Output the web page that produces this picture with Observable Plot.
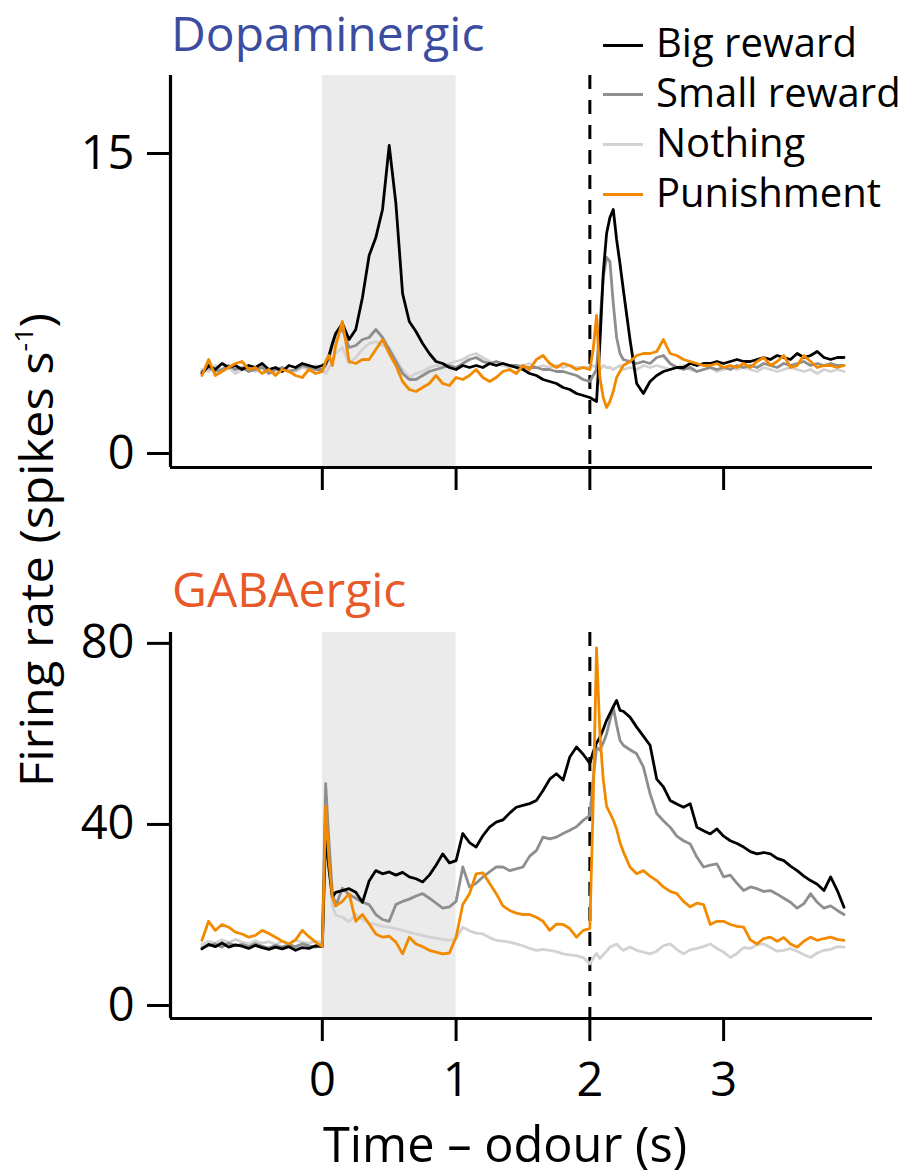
<!DOCTYPE html>
<html><head><meta charset="utf-8">
<script src="https://cdn.jsdelivr.net/npm/d3@7"></script>
<script src="https://cdn.jsdelivr.net/npm/@observablehq/plot@0.6"></script>
<style>
html,body{margin:0;padding:0;background:#fff;}
#chart{position:relative;width:909px;height:1175px;font-family:"Open Sans",sans-serif;overflow:hidden;background:#fff;}
#chart svg{position:absolute;left:0;}
.abs{position:absolute;white-space:nowrap;line-height:1;left:0;top:0;}
</style></head><body><div id="chart"></div>
<script>
// ---- time (s) relative to odour onset ----
const time = [
 -0.9,-0.85,-0.8,-0.75,-0.7,-0.65,-0.6,-0.55,-0.5,-0.45,-0.4,-0.35,-0.3,-0.25,-0.2,-0.15,-0.1,-0.05,
 0,0.025,0.05,0.075,0.1,
 0.15,0.2,0.25,0.3,0.35,0.4,0.45,0.5,0.55,0.6,0.65,0.7,0.75,0.8,0.85,0.9,0.95,1.0,1.05,1.1,1.15,1.2,1.25,1.3,1.35,1.4,1.45,1.5,1.55,1.6,1.65,1.7,1.75,1.8,1.85,1.9,1.95,
 2.0,2.025,2.05,2.075,2.1,2.125,2.15,2.175,2.2,2.225,2.25,
 2.3,2.35,2.4,2.45,2.5,2.55,2.6,2.65,2.7,2.75,2.8,2.85,2.9,2.95,3.0,3.05,3.1,3.15,3.2,3.25,3.3,3.35,3.4,3.45,3.5,3.55,3.6,3.65,3.7,3.75,3.8,3.85,3.9
];

// ---- Dopaminergic firing rate (spikes/s) ----
const daBig = [
 4.0,4.4,4.2,4.5,4.3,4.4,4.2,4.4,4.3,4.5,4.2,4.3,4.1,4.4,4.3,4.5,4.4,4.3,
 4.4,4.5,4.9,5.5,6.0,
 6.5,5.7,6.2,7.8,9.9,10.8,12.2,15.4,12.5,8.0,6.6,6.1,5.5,5.0,4.6,4.5,4.3,4.2,4.4,4.3,4.4,4.3,4.5,4.4,4.5,4.4,4.3,4.2,4.0,3.9,3.7,3.6,3.5,3.3,3.2,3.0,2.9,
 2.8,2.7,2.6,5.5,9.0,11.0,11.8,12.2,10.7,9.5,8.2,
 5.7,3.5,3.0,3.6,3.9,4.1,4.2,4.3,4.3,4.5,4.4,4.5,4.5,4.6,4.5,4.6,4.7,4.6,4.6,4.7,4.8,4.7,4.9,4.8,4.7,5.0,4.8,4.9,5.1,4.8,4.7,4.8,4.8
];
const daSmall = [
 4.1,4.3,4.1,4.2,4.4,4.2,4.3,4.1,4.2,4.3,4.0,4.2,4.3,4.1,4.2,4.4,4.3,4.2,
 4.2,4.4,4.8,5.4,6.0,
 6.2,5.3,5.4,5.7,5.8,6.2,5.8,5.2,4.6,4.0,3.7,3.7,3.9,4.1,4.2,4.3,4.4,4.3,4.5,4.7,4.8,4.6,4.5,4.6,4.5,4.4,4.4,4.3,4.3,4.3,4.2,4.2,4.1,4.1,4.0,3.9,3.7,
 3.6,3.9,4.2,6.5,8.8,9.8,9.6,7.5,5.8,5.0,4.7,
 4.6,4.5,4.6,4.5,4.8,4.9,4.5,4.3,4.2,4.3,4.1,4.2,4.3,4.2,4.3,4.2,4.4,4.3,4.4,4.3,4.5,4.4,4.3,4.5,4.4,4.5,4.6,4.4,4.5,4.4,4.5,4.4,4.4
];
const daNothing = [
 4.2,4.1,4.4,4.2,4.3,4.0,4.2,4.4,4.1,4.3,4.2,4.0,4.3,4.2,4.1,4.3,4.2,4.4,
 4.2,4.0,4.3,4.6,5.0,
 5.3,4.5,4.8,5.2,5.5,5.6,5.4,5.3,4.7,4.2,3.8,4.0,4.1,4.3,4.4,4.4,4.5,4.6,4.7,4.9,5.0,4.8,4.6,4.5,4.4,4.3,4.4,4.4,4.5,4.3,4.4,4.3,4.4,4.3,4.4,4.3,4.3,
 4.3,4.4,4.3,4.2,4.4,4.3,4.3,4.2,4.3,4.4,4.2,
 4.3,4.2,4.4,4.3,4.4,4.3,4.2,4.3,4.4,4.2,4.1,4.2,4.3,4.1,4.2,4.3,4.2,4.3,4.2,4.1,4.3,4.2,4.1,4.2,4.3,4.2,4.1,4.2,4.0,4.2,4.1,4.2,4.1
];
const daPunish = [
 3.9,4.7,3.9,4.1,4.3,4.5,4.6,4.2,4.3,4.0,4.2,3.9,4.2,4.1,3.9,3.8,4.2,4.0,
 4.1,4.6,4.9,4.4,5.4,
 6.6,4.6,4.5,4.7,4.7,5.2,5.7,5.0,4.4,3.6,3.2,3.1,3.3,3.5,3.9,3.5,3.4,3.8,3.7,3.9,4.2,3.8,3.6,3.8,4.1,4.2,4.0,4.4,4.2,4.7,4.9,4.5,4.3,4.5,4.4,4.2,4.3,
 4.2,5.2,6.9,3.8,2.8,2.3,2.6,3.1,3.8,4.1,4.4,
 4.6,4.9,5.0,5.0,5.1,5.7,5.0,4.9,4.7,4.6,4.5,4.4,4.4,4.5,4.3,4.4,4.3,4.5,4.3,4.6,4.8,4.4,4.6,4.9,4.3,4.4,4.9,4.6,4.3,4.4,4.4,4.3,4.4
];

// ---- GABAergic firing rate (spikes/s) ----
const gaBig = [
 12.5,13.5,13.0,13.8,12.9,13.4,13.1,12.6,13.3,12.8,12.4,12.9,12.5,13.0,12.2,12.8,12.6,13.2,
 13.0,38,30,24,25,
 25.4,25.8,25.0,22.8,27.5,29.8,29.1,29.5,28.8,29.4,28.4,28.0,27.3,28.8,31.0,33.5,31.5,32.0,38.0,36.0,35.0,37.5,39.4,40.5,41.0,42.5,43.8,44.2,44.6,45.3,47.5,50.0,51.2,49.8,54.9,57.1,55.5,
 53.5,56,58,59.3,61,63,64.5,66,67.4,65.2,65.0,
 63.7,61.5,59.5,57.5,50.0,48.3,45.3,44.5,43.8,44.6,39.4,38.6,37.9,39.0,37.4,36.4,35.8,35.0,34.0,33.5,33.8,33.5,32.5,32.0,30.8,29.8,28.6,27.6,26.8,25.4,28.4,25.4,21.7
];
const gaSmall = [
 12.8,13.2,13.6,12.9,13.8,13.2,13.5,13.0,13.7,13.1,12.7,13.3,12.9,13.4,13.0,13.6,13.2,12.9,
 13.5,49,36,25,22,
 25.9,24.5,23.7,22.8,22.3,20.1,19.0,18.6,22.3,23.0,23.5,24.2,24.7,23.7,22.6,21.5,21.8,23.0,30.6,26.2,27.0,28.4,29.5,30.6,30.6,29.8,30.2,30.6,33.0,34.2,37.2,36.8,37.2,38.0,38.7,39.5,40.9,
 42,50,57,56.4,58,60,63,65.9,62,58.6,57.5,
 56.5,55.6,52.7,46.8,42.4,40.8,39.4,37.4,36.4,35.7,32.8,30.6,31.0,31.3,28.4,28.8,27.0,25.4,26.2,25.8,25.2,25.4,24.6,23.7,22.8,21.5,22.5,24.7,22.8,21.5,22.0,21.0,20.1
];
const gaNothing = [
 13.5,14.2,13.8,14.5,13.9,14.6,14.0,13.6,14.3,13.8,14.1,13.5,14.2,13.7,14.4,14.0,13.8,14.2,
 14.0,46,31,22,20,
 19.5,18.5,20.1,19.0,18.2,17.9,17.5,17.3,17.0,16.6,16.2,15.8,15.5,15.1,14.9,14.6,14.4,14.8,17.3,16.5,16.0,15.8,15.0,14.4,14.2,14.0,13.6,13.2,12.6,12.2,12.4,12.2,11.9,11.4,11.2,11.0,10.6,
 9.2,10.5,11.5,10.4,11.2,12.0,12.9,13.2,13.6,12.8,12.2,
 12.9,12.2,11.8,11.4,12.0,13.2,13.6,12.4,11.4,12.3,12.6,13.0,13.6,12.6,11.8,10.6,11.5,12.8,12.6,13.4,13.6,12.8,12.0,12.2,12.6,12.0,11.2,10.6,11.6,12.2,12.4,13.0,12.9
];
const gaPunish = [
 14.4,18.6,16.6,17.9,17.3,16.2,15.8,15.1,15.5,16.6,15.9,15.1,14.2,13.6,14.5,16.6,15.2,14.0,
 13.0,44,32,24,22,
 23.0,24.7,18.6,20.1,18.0,15.8,15.1,15.3,14.0,11.4,15.1,13.6,13.0,12.2,11.8,11.4,11.6,15.1,22.3,24.7,29.1,29.3,27.0,24.7,22.0,21.0,20.4,20.1,20.1,19.5,18.6,16.6,18.0,17.9,17.0,15.1,16.6,
 17,45,79,60,50,44,42.5,41,39,36,34,
 30.6,29.1,29.8,28.6,27.6,26.2,25.2,24.7,23.0,21.8,22.6,22.3,17.9,18.6,18.6,17.9,17.5,17.3,14.5,13.6,14.8,15.1,14.2,15.0,13.6,12.9,14.2,15.1,14.4,14.8,15.1,14.6,14.4
];

// ---- categories, colours, ticks ----
const seriesNames = ["Big reward", "Small reward", "Nothing", "Punishment"];
const seriesColors = ["#000000", "#8e8e8e", "#d2d2d2", "#f28a00"];
const drawOrder = ["Nothing", "Small reward", "Big reward", "Punishment"];
const odourWindow = [{start: 0, end: 1}];
const outcomeTime = [2];
const xTicks = [0, 1, 2, 3];
const daTicks = [0, 15];
const gaTicks = [0, 40, 80];
const xDomain = [-1.135, 4.113];
const daDomain = [-0.7, 18.9];
const gaDomain = [-2.87, 82.4];

const colorOf = name => seriesColors[seriesNames.indexOf(name)];

function table(arrs) {
  const out = {};
  for (const name of seriesNames) {
    const a = arrs[name];
    out[name] = time.map((t, i) => ({t, v: a[i]})).filter(d => d.v != null);
  }
  return out;
}
const daData = table({"Big reward": daBig, "Small reward": daSmall, "Nothing": daNothing, "Punishment": daPunish});
const gaData = table({"Big reward": gaBig, "Small reward": gaSmall, "Nothing": gaNothing, "Punishment": gaPunish});

const FONT = '"Open Sans", sans-serif';

function panel(data, yDomain, yTicks, opts) {
  return Plot.plot({
    width: 909,
    height: opts.height,
    marginLeft: 170,
    marginRight: 37,
    marginTop: opts.marginTop,
    marginBottom: opts.marginBottom,
    x: {domain: xDomain},
    y: {domain: yDomain},
    style: {fontFamily: FONT, fontSize: "47px", color: "#000", background: "none", overflow: "visible"},
    marks: [
      Plot.rect(odourWindow, {x1: "start", x2: "end", fill: "#ebebeb"}),
      Plot.ruleX(outcomeTime, {stroke: "#000", strokeWidth: 3, strokeDasharray: "14,11"}),
      ...drawOrder.map(name => Plot.line(data[name], {x: "t", y: "v", stroke: colorOf(name), strokeWidth: 2.8, strokeLinejoin: "round"})),
      Plot.ruleY([yDomain[0]], {stroke: "#000", strokeWidth: 3.2}),
      Plot.ruleX([xDomain[0]], {stroke: "#000", strokeWidth: 3.2}),
      Plot.axisY({ticks: yTicks, tickSize: 23, tickPadding: 13, strokeWidth: 3, label: null, tickFormat: d => String(d)}),
      opts.xLabels
        ? Plot.axisX({ticks: xTicks, tickSize: 23, tickPadding: 21, strokeWidth: 3, label: null, tickFormat: d => String(d)})
        : Plot.axisX({ticks: xTicks, tickSize: 23, tickFormat: () => "", strokeWidth: 3, label: null})
    ]
  });
}

const chart = document.getElementById("chart");
const top1 = panel(daData, daDomain, daTicks, {height: 500, marginTop: 75, marginBottom: 33, xLabels: false});
top1.style.top = "0px";
chart.appendChild(top1);
const bot = panel(gaData, gaDomain, gaTicks, {height: 615, marginTop: 72, marginBottom: 157, xLabels: true});
bot.style.top = "560px";
chart.appendChild(bot);

// ---- text overlays ----
const ASC = 0.888; // baseline position within a line-height:1 box (Open Sans)
function addText(txt, {x, baseline, size, color = "#000"}) {
  const d = document.createElement("div");
  d.className = "abs";
  d.style.fontSize = size + "px";
  d.style.color = color;
  d.textContent = txt;
  d.style.left = x + "px";
  d.style.top = (baseline - ASC * size) + "px";
  chart.appendChild(d);
  return d;
}
function addFitted(html, {cx, cy, size, length, rotate = false}) {
  const d = document.createElement("div");
  d.className = "abs";
  d.style.fontSize = size + "px";
  d.innerHTML = html;
  chart.appendChild(d);
  const w = d.getBoundingClientRect().width;
  const s = length / w;
  d.style.transformOrigin = "0 0";
  d.style.transform = `translate(${cx}px, ${cy}px) ${rotate ? "rotate(-90deg)" : ""} scale(${s}, 1) translate(${-w / 2}px, ${-ASC * size}px)`;
  return d;
}

addText("Dopaminergic", {x: 171, baseline: 52, size: 48, color: "#3c4d9f"});
addText("GABAergic", {x: 172, baseline: 608, size: 48, color: "#e8592a"});

// legend
seriesNames.forEach((name, i) => {
  const baseline = 58 + i * 49.7;
  const ln = document.createElement("div");
  ln.className = "abs";
  ln.style.left = "603px";
  ln.style.width = "40px";
  ln.style.height = "3px";
  ln.style.background = colorOf(name);
  ln.style.top = (baseline - 14.5) + "px";
  chart.appendChild(ln);
  addText(name, {x: 656, baseline, size: 40});
});

addFitted("Time – odour (s)", {cx: 505, cy: 1163, size: 49, length: 364});
addFitted('Firing rate (spikes s<span style="font-size:0.55em;vertical-align:0.8em">-1</span>)', {cx: 52, cy: 550, size: 46, length: 474, rotate: true});
</script></body></html>
